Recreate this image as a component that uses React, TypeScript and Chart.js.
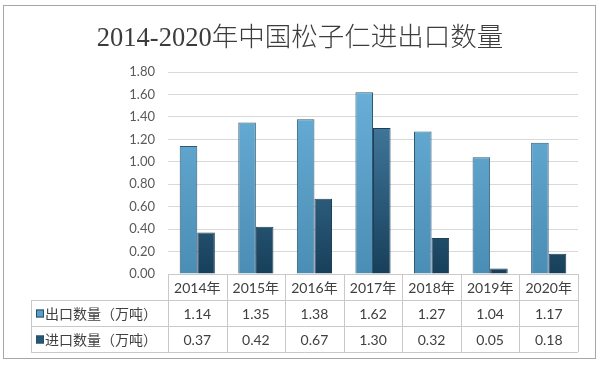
import React, { useEffect, useRef } from "react";
import { Chart, registerables } from "chart.js";

Chart.register(...registerables);

const titleText = "2014-2020年中国松子仁进出口数量";
const years = ["2014年", "2015年", "2016年", "2017年", "2018年", "2019年", "2020年"];
const seriesNames = ["出口数量（万吨）", "进口数量（万吨）"];
const exportQty = [1.14, 1.35, 1.38, 1.62, 1.27, 1.04, 1.17];
const importQty = [0.37, 0.42, 0.67, 1.3, 0.32, 0.05, 0.18];
const yMax = 1.8;
const yStep = 0.2;

const LATIN = "Lato, 'Noto Sans CJK SC', sans-serif";
const CJK = "'Noto Sans CJK SC', sans-serif";

function gradient(chart: any, top: string, bottom: string) {
  const { ctx, chartArea } = chart;
  if (!chartArea) return top;
  const g = ctx.createLinearGradient(0, chartArea.top, 0, chartArea.bottom);
  g.addColorStop(0, top);
  g.addColorStop(1, bottom);
  return g;
}

const decorPlugin = {
  id: "decor",
  beforeDraw(chart: any) {
    const ctx = chart.ctx;
    ctx.save();
    ctx.fillStyle = "#ffffff";
    ctx.fillRect(0, 0, chart.width, chart.height);
    ctx.restore();
  },
  afterDraw(chart: any) {
    const ctx = chart.ctx;
    const ca = chart.chartArea;
    ctx.save();
    // outer frame
    ctx.strokeStyle = "#a6a6a6";
    ctx.lineWidth = 1;
    ctx.strokeRect(3.5, 5.5, 592, 353);
    // title
    ctx.fillStyle = "#3c3c3c";
    ctx.font = "300 26.5px 'Liberation Serif', 'Noto Sans CJK SC', serif";
    ctx.textAlign = "center";
    ctx.textBaseline = "middle";
    ctx.fillText(titleText, 300, 39);

    // data table
    const n = years.length;
    const colW = (ca.right - ca.left) / n;
    const top = ca.bottom;
    const r1 = 300;
    const r2 = 326;
    const bot = 352;
    const labelLeft = 31;
    ctx.strokeStyle = "#c9c9c9";
    ctx.lineWidth = 1;
    const hline = (x1: number, x2: number, y: number) => {
      ctx.beginPath();
      ctx.moveTo(x1, Math.round(y) + 0.5);
      ctx.lineTo(x2, Math.round(y) + 0.5);
      ctx.stroke();
    };
    const vline = (x: number, y1: number, y2: number) => {
      ctx.beginPath();
      ctx.moveTo(Math.round(x) + 0.5, y1);
      ctx.lineTo(Math.round(x) + 0.5, y2);
      ctx.stroke();
    };
    hline(ca.left, ca.right, top);
    hline(labelLeft, ca.right, r1);
    hline(labelLeft, ca.right, r2);
    hline(labelLeft, ca.right, bot);
    vline(labelLeft, r1, bot);
    for (let i = 0; i <= n; i++) {
      vline(ca.left + i * colW, top, bot);
    }
    ctx.fillStyle = "#404040";
    ctx.textAlign = "center";
    ctx.textBaseline = "middle";
    ctx.font = "14px " + LATIN;
    for (let i = 0; i < n; i++) {
      const cx = ca.left + (i + 0.5) * colW;
      ctx.fillText(years[i], cx, (top + r1) / 2 + 1);
      ctx.fillText(exportQty[i].toFixed(2), cx, (r1 + r2) / 2 + 1);
      ctx.fillText(importQty[i].toFixed(2), cx, (r2 + bot) / 2 + 1);
    }
    // legend keys and labels
    const rows = [
      { y: (r1 + r2) / 2 + 1, fill: "#5a9fc9", name: seriesNames[0] },
      { y: (r2 + bot) / 2 + 1, fill: "#24587a", name: seriesNames[1] },
    ];
    rows.forEach((r) => {
      ctx.fillStyle = r.fill;
      ctx.fillRect(36, r.y - 4.5, 8, 8);
      ctx.strokeStyle = "#2d4d63";
      ctx.strokeRect(36.5, r.y - 4, 7, 7);
      ctx.fillStyle = "#404040";
      ctx.textAlign = "left";
      ctx.font = "14px " + CJK;
      ctx.fillText(r.name, 45, r.y);
    });
    ctx.restore();
  },
};

export default function App() {
  const ref = useRef<HTMLCanvasElement | null>(null);
  useEffect(() => {
    if (!ref.current) return;
    const chart = new Chart(ref.current, {
      type: "bar",
      data: {
        labels: years,
        datasets: [
          {
            label: seriesNames[0],
            data: exportQty,
            backgroundColor: (c: any) => gradient(c.chart, "#6cb2da", "#4a8db5"),
            borderColor: "#2f5873",
            borderWidth: 1,
            categoryPercentage: 0.6,
            barPercentage: 1.0,
          },
          {
            label: seriesNames[1],
            data: importQty,
            backgroundColor: (c: any) => gradient(c.chart, "#4e8ab1", "#173f5a"),
            borderColor: "#1f3f55",
            borderWidth: 1,
            categoryPercentage: 0.6,
            barPercentage: 1.0,
          },
        ],
      },
      options: {
        responsive: false,
        animation: false,
        layout: { padding: { left: 0, right: 22, top: 72, bottom: 92 } },
        plugins: {
          legend: { display: false },
          title: { display: false },
          tooltip: { enabled: false },
        },
        scales: {
          x: { display: false },
          y: {
            min: 0,
            max: yMax,
            afterFit: (s: any) => {
              s.width = 168;
            },
            ticks: {
              stepSize: yStep,
              padding: 13,
              color: "#595959",
              font: { family: LATIN, size: 13 },
              callback: (v: any) => Number(v).toFixed(2),
            },
            grid: { color: "#d9d9d9", drawTicks: false },
            border: { display: false },
          },
        },
      },
      plugins: [decorPlugin],
    });
    return () => chart.destroy();
  }, []);
  return (
    <div style={{ position: "fixed", left: 0, top: 0, width: 600, height: 366, background: "#fff" }}>
      <canvas ref={ref} width={600} height={366} style={{ display: "block" }} />
    </div>
  );
}
